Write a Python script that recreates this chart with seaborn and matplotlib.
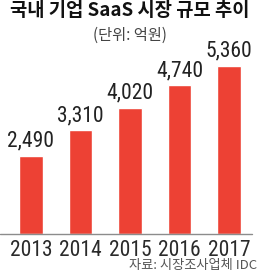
import matplotlib
matplotlib.use("Agg")
import matplotlib.pyplot as plt
import seaborn as sns
import pandas as pd

years = ["2013", "2014", "2015", "2016", "2017"]
values = [2490, 3310, 4020, 4740, 5360]
value_labels = ["2,490", "3,310", "4,020", "4,740", "5,360"]
title = "국내 기업 SaaS 시장 규모 추이"
subtitle = "(단위: 억원)"
source = "자료: 시장조사업체 IDC"

sns.set_style("white")
plt.rcParams['font.family'] = ['Noto Sans CJK KR', 'DejaVu Sans']

df = pd.DataFrame({"year": years, "value": values})

W, H = 260, 272
fig = plt.figure(figsize=(W / 100, H / 100), dpi=100)
ax = fig.add_axes([0, (H - 234) / H, 1, (234 - 60) / H])

sns.barplot(data=df, x="year", y="value", color="#ED4134", width=0.47,
            saturation=1, ax=ax)

step = 49.5
c0 = 31
ax.set_xlim(-c0 / step, (W - c0) / step)
ax.set_ylim(0, 174 * 31.9)

num_font = ['Roboto Condensed', 'DejaVu Sans']
ax.bar_label(ax.containers[0], labels=value_labels, padding=3,
             fontsize=15.5, color="#222222", family=num_font)

ax.set_xlabel("")
ax.set_ylabel("")
ax.set_yticks([])
ax.tick_params(axis="x", length=0, pad=4, labelsize=15.5, labelcolor="#2a2a2a")
for lab in ax.get_xticklabels():
    lab.set_family(num_font)
for s in ax.spines.values():
    s.set_visible(False)
ax.axhline(0, xmin=0, xmax=252 / W, color="#8c8c8c", lw=1.0, clip_on=False)

fig.text(130 / W, 1 - 10 / H, title, ha="center", va="center",
         fontsize=13.5, fontweight="bold", color="#111111")
fig.text(130 / W, 1 - 35 / H, subtitle, ha="center", va="center",
         fontsize=11, color="#444444")
fig.text(257 / W, 1 - 265 / H, source, ha="right", va="center",
         fontsize=9.5, color="#555555")

fig.savefig("out.png", dpi=100)
